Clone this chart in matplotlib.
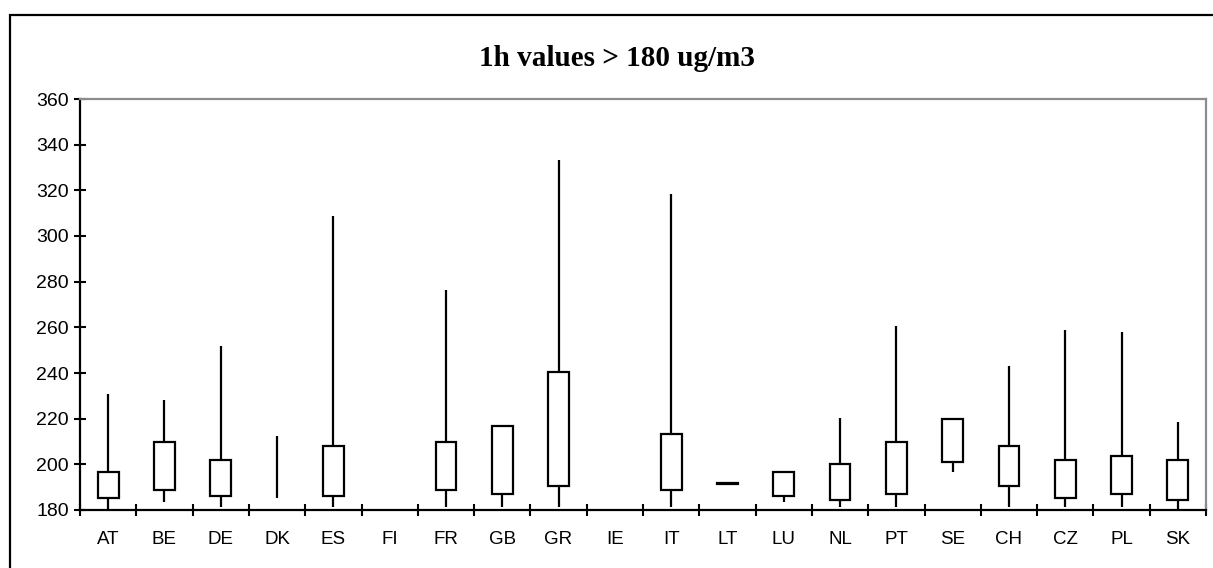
import numpy as np
import matplotlib
matplotlib.use("Agg")
import matplotlib.pyplot as plt
from matplotlib.patches import Rectangle

nan = np.nan

# country codes along the x axis
countries = ['AT', 'BE', 'DE', 'DK', 'ES', 'FI', 'FR', 'GB', 'GR', 'IE',
             'IT', 'LT', 'LU', 'NL', 'PT', 'SE', 'CH', 'CZ', 'PL', 'SK']

# 1h values > 180 ug/m3 : min, lower box, upper box, max
low = [180.3, 183.4, 181.2, 185.3, 181.2, nan, 181.2, 181.2, 181.2, nan,
       181.2, 191.6, 183.7, 181.2, 181.2, 196.8, 181.2, 181.2, 181.2, 180.4]
q1 = [185.3, 188.6, 186.1, nan, 186.1, nan, 188.6, 186.9, 190.4, nan,
      188.6, 191.4, 186.1, 184.2, 186.9, 201.1, 190.4, 185.3, 186.9, 184.2]
q3 = [196.5, 210.0, 202.0, nan, 208.0, nan, 209.9, 216.7, 240.4, nan,
      213.4, 192.0, 196.5, 200.2, 210.0, 219.7, 208.1, 202.0, 203.6, 202.0]
high = [230.9, 228.0, 251.9, 212.3, 308.9, nan, 276.3, 216.7, 333.5, nan,
        318.4, 192.0, 196.5, 220.2, 260.6, 219.7, 243.1, 258.9, 258.0, 218.5]

yticks = list(range(180, 361, 20))

fig = plt.figure(figsize=(12.13, 5.68), dpi=100)
ax = fig.add_axes([80 / 1213, 1 - 510 / 568, 1126 / 1213, 411 / 568])

x = np.arange(len(countries))
low_a, high_a = np.array(low), np.array(high)
q1_a, q3_a = np.array(q1), np.array(q3)

# whiskers (high-low lines)
ax.vlines(x, low_a, high_a, color='black', linewidth=1.6, zorder=2)
# boxes
ax.bar(x, q3_a - q1_a, bottom=q1_a, width=0.37, facecolor='white',
       edgecolor='black', linewidth=1.6, zorder=3)

ax.set_xlim(-0.5, len(countries) - 0.5)
ax.set_ylim(180, 360)
ax.set_yticks(yticks)
ax.set_yticklabels([str(v) for v in yticks], fontsize=14, family='Liberation Sans')

# ticks on category boundaries, labels at centres
ax.set_xticks(np.arange(-0.5, len(countries), 1.0))
ax.set_xticklabels([])
ax.set_xticks(x, minor=True)
ax.set_xticklabels(countries, minor=True, fontsize=13.5, family='Liberation Sans')
ax.tick_params(axis='x', which='minor', length=0, pad=15)
ax.tick_params(axis='x', which='major', direction='inout', length=8, width=1.5)
ax.tick_params(axis='y', direction='inout', length=8, width=1.5, pad=4)

for side in ['left', 'bottom']:
    ax.spines[side].set_color('black')
    ax.spines[side].set_linewidth(1.6)
for side in ['top', 'right']:
    ax.spines[side].set_color('#8c8c8c')
    ax.spines[side].set_linewidth(1.6)

fig.text(617 / 1213, 1 - 58 / 568, '1h values > 180 ug/m3', ha='center', va='center',
         fontsize=21, fontweight='bold', family='Liberation Serif')

# outer chart frame
fig.patches.append(Rectangle((10 / 1213, -0.1), 1.2, 1.1 - 15 / 568,
                             transform=fig.transFigure, fill=False,
                             edgecolor='black', linewidth=1.6))

fig.savefig('out.png', dpi=100)
